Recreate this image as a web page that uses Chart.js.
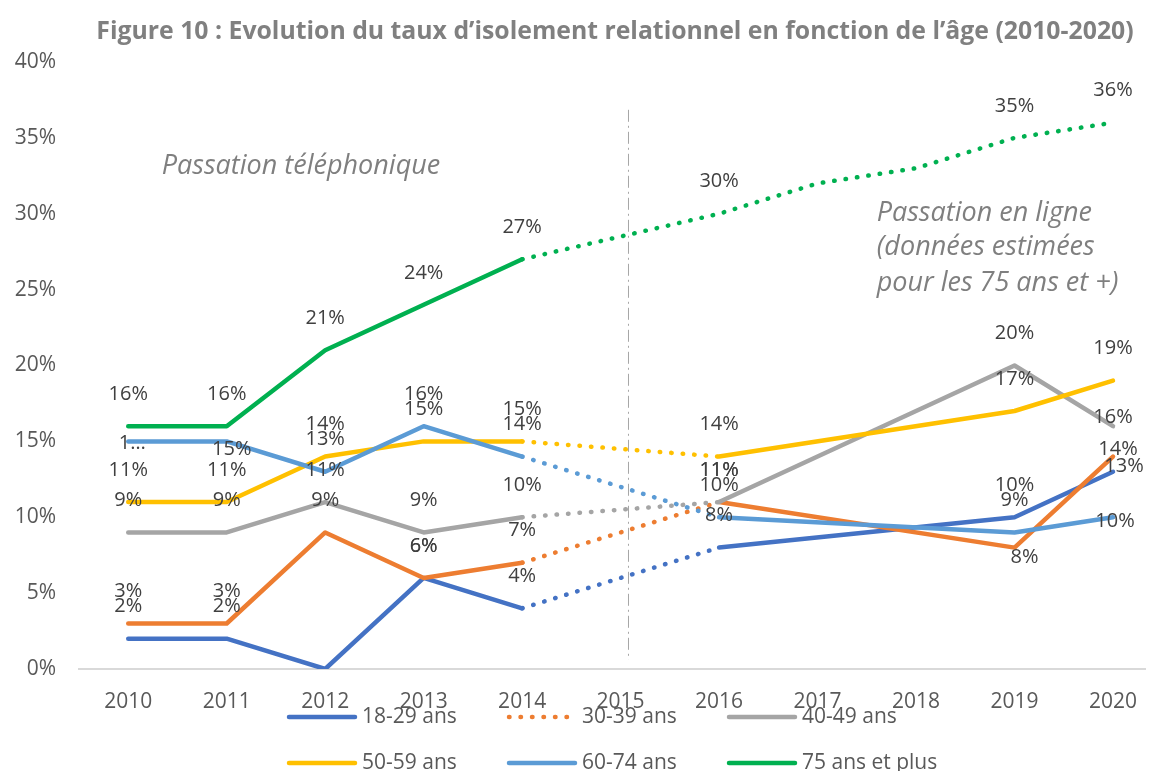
<!DOCTYPE html>
<html>
<head>
<meta charset="utf-8">
<script src="https://cdn.jsdelivr.net/npm/chart.js@4.4.0/dist/chart.umd.min.js"></script>
<style>
  html, body { margin: 0; padding: 0; background: #fff; }
  #wrap { position: relative; width: 1149px; height: 771px; }
</style>
</head>
<body>
<div id="wrap"><canvas id="chart" width="1149" height="771"></canvas></div>
<script>
// values (percent), null = no survey point
const years = [2010, 2011, 2012, 2013, 2014, 2015, 2016, 2017, 2018, 2019, 2020];
const ages18_29 = [2, 2, 0, 6, 4, null, 8, null, null, 10, 13];
const ages30_39 = [3, 3, 9, 6, 7, null, 11, null, null, 8, 14];
const ages40_49 = [9, 9, 11, 9, 10, null, 11, null, null, 20, 16];
const ages50_59 = [11, 11, 14, 15, 15, null, 14, null, null, 17, 19];
const ages60_74 = [15, 15, 13, 16, 14, null, 10, null, null, 9, 10];
const ages75plus = [16, 16, 21, 24, 27, null, 30, 32, 33, 35, 36];
const seriesNames = ['18-29 ans', '30-39 ans', '40-49 ans', '50-59 ans', '60-74 ans', '75 ans et plus'];
const yTicks = [0, 5, 10, 15, 20, 25, 30, 35, 40];

const colors = ['#4472c4', '#ed7d31', '#a5a5a5', '#ffc000', '#5b9bd5', '#00b050'];
const FONT = "'Open Sans', 'DejaVu Sans', sans-serif";

// label tweaks: year -> [dx, dy, text]; default is centred 32px above the point
const labelTweaks = [
    { 2012: null, 2020: [11, -5] },
    { 2019: [10, 10], 2020: [5, -7] },
    { 2020: [0, -9] },
    {},
    { 2010: [4, 2, '1…'], 2011: [5, 8], 2020: [2, 4] },
    { 2017: null, 2018: null }
];

const allSeries = [ages18_29, ages30_39, ages40_49, ages50_59, ages60_74, ages75plus];

function dotted(ctx, i) {
    const a = ctx.p0.parsed.x, b = ctx.p1.parsed.x;
    if (i === 5) return a >= 2014 ? [0.5, 11] : undefined;
    return (a >= 2014 && b <= 2016) ? [0.5, 11] : undefined;
}

const datasets = allSeries.map((vals, i) => ({
    label: seriesNames[i],
    data: years.map((x, k) => ({ x: x, y: vals[k] })).filter(p => p.y !== null),
    borderColor: colors[i],
    backgroundColor: colors[i],
    borderWidth: 4.5,
    borderCapStyle: 'round',
    borderJoinStyle: 'round',
    pointRadius: 0,
    tension: 0,
    order: 6 - i,
    segment: { borderDash: ctx => dotted(ctx, i) }
}));

const decorPlugin = {
    id: 'decor',
    beforeDatasetsDraw(chart) {
        const { ctx, scales: { x, y } } = chart;
        // separator between phone and online surveys
        ctx.save();
        ctx.strokeStyle = '#a6a6a6';
        ctx.lineWidth = 1;
        ctx.setLineDash([12, 4, 2, 4]);
        ctx.beginPath();
        ctx.moveTo(x.getPixelForValue(2015.08), y.getPixelForValue(36.85));
        ctx.lineTo(x.getPixelForValue(2015.08), y.getPixelForValue(0.6));
        ctx.stroke();
        ctx.restore();
    },
    afterDraw(chart) {
        const { ctx, scales: { x, y } } = chart;
        ctx.save();
        // title
        ctx.fillStyle = '#808080';
        ctx.font = 'bold 24.8px ' + FONT;
        ctx.textAlign = 'center';
        ctx.textBaseline = 'middle';
        ctx.fillText('Figure 10 : Evolution du taux d’isolement relationnel en fonction de l’âge (2010-2020)', 615, 32);

        // notes
        ctx.font = 'italic 27px ' + FONT;
        ctx.fillStyle = '#7f7f7f';
        ctx.textAlign = 'left';
        ctx.fillText('Passation téléphonique', x.getPixelForValue(2010.34), y.getPixelForValue(33.1));
        const notes = ['Passation en ligne', '(données estimées', 'pour les 75 ans et +)'];
        const noteY = [30.05, 27.8, 25.4];
        notes.forEach((t, k) => ctx.fillText(t, x.getPixelForValue(2017.6), y.getPixelForValue(noteY[k])));

        // data labels
        ctx.font = '20px ' + FONT;
        ctx.fillStyle = '#404040';
        ctx.textAlign = 'center';
        chart.data.datasets.forEach((ds, i) => {
            const meta = chart.getDatasetMeta(i);
            meta.data.forEach((pt, k) => {
                const yr = ds.data[k].x;
                const tw = labelTweaks[i][yr];
                if (tw === null) return;
                const dx = tw ? tw[0] : 0;
                const dy = tw ? tw[1] : -32;
                const txt = tw && tw[2] ? tw[2] : ds.data[k].y + '%';
                ctx.fillText(txt, pt.x + dx, pt.y + dy);
            });
        });

        // legend, two rows of three
        const colX = [287, 507, 727];
        const rowY = [717, 763];
        ctx.font = '21px ' + FONT;
        ctx.fillStyle = '#595959';
        ctx.textAlign = 'left';
        chart.data.datasets.forEach((ds, i) => {
            const lx = colX[i % 3], ly = rowY[Math.floor(i / 3)];
            ctx.save();
            ctx.strokeStyle = ds.borderColor;
            ctx.lineWidth = 4.5;
            ctx.lineCap = 'round';
            if (i === 1) ctx.setLineDash([0.5, 11]);
            ctx.beginPath();
            ctx.moveTo(lx + 2, ly);
            ctx.lineTo(lx + 68, ly);
            ctx.stroke();
            ctx.restore();
            ctx.fillText(ds.label, lx + 75, ly);
        });
        ctx.restore();
    }
};

new Chart(document.getElementById('chart'), {
    type: 'line',
    data: { datasets: datasets },
    options: {
        responsive: false,
        animation: false,
        layout: { padding: { top: 62, right: 0, bottom: 0, left: 0 } },
        plugins: { legend: { display: false }, tooltip: { enabled: false }, title: { display: false } },
        scales: {
            x: {
                type: 'linear',
                min: 2009.5,
                max: 2020.33,
                afterBuildTicks: s => { s.ticks = years.map(v => ({ value: v })); },
                afterFit: s => { s.height = 102; },
                grid: { display: false },
                border: { display: true, color: '#d9d9d9', width: 2 },
                ticks: {
                    padding: 12,
                    color: '#595959',
                    font: { family: FONT, size: 21 },
                    callback: v => String(v)
                }
            },
            y: {
                min: 0,
                max: 40,
                afterBuildTicks: s => { s.ticks = yTicks.map(v => ({ value: v })); },
                afterFit: s => { s.width = 79; },
                grid: { display: false },
                border: { display: false },
                ticks: {
                    padding: 15,
                    color: '#595959',
                    font: { family: FONT, size: 21 },
                    callback: v => v + '%'
                }
            }
        }
    },
    plugins: [decorPlugin]
});
</script>
</body>
</html>
